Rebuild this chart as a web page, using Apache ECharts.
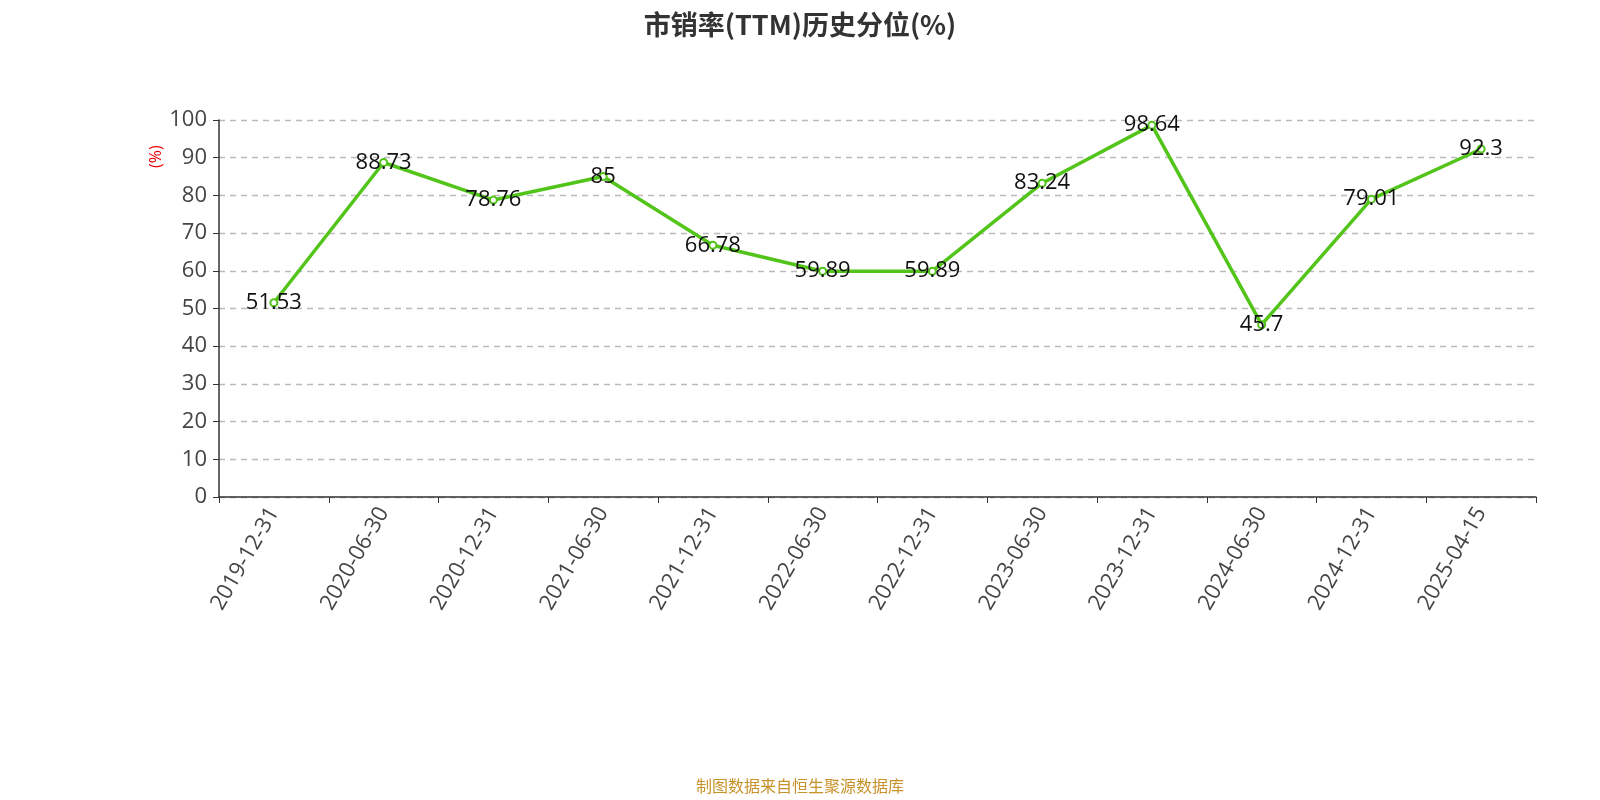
<!DOCTYPE html>
<html><head><meta charset="utf-8">
<script src="https://cdn.jsdelivr.net/npm/echarts@6/dist/echarts.min.js"></script>
<style>html,body{margin:0;padding:0;}#c{width:1600px;height:800px;}</style>
</head><body><div id="c"></div>
<script>
const categories = ['2019-12-31','2020-06-30','2020-12-31','2021-06-30','2021-12-31','2022-06-30','2022-12-31','2023-06-30','2023-12-31','2024-06-30','2024-12-31','2025-04-15'];
const values = [51.53,88.73,78.76,85,66.78,59.89,59.89,83.24,98.64,45.7,79.01,92.3];
const chart = echarts.init(document.getElementById('c'));
const font = '"Open Sans", "Noto Sans CJK SC", sans-serif';
chart.setOption({
  animation:false,
  title:{text:'市销率(TTM)历史分位(%)',left:'center',top:6,textStyle:{fontSize:27,fontWeight:'bold',color:'#333',fontFamily:'"Noto Sans CJK SC", sans-serif'}},
  grid:{left:219,right:64,top:120,bottom:303},
  graphic:[
    {type:'text',left:'center',top:778,style:{text:'制图数据来自恒生聚源数据库',fill:'#c8922a',font:'16px "Noto Sans CJK SC", sans-serif'}},
    {type:'text',x:148,y:168,rotation:Math.PI/2,style:{text:'(%)',fill:'#e00',font:'16px '+font}}
  ],
  xAxis:{type:'category',data:categories,boundaryGap:true,
    axisLine:{lineStyle:{color:'#333',width:1.5}},axisTick:{show:true,length:6,lineStyle:{color:'#333'}},
    axisLabel:{rotate:60,fontSize:22,color:'#444',fontFamily:font,margin:12,interval:0}},
  yAxis:{type:'value',min:0,max:100,interval:10,
    axisLine:{show:true,lineStyle:{color:'#333',width:1.5}},axisTick:{show:true,length:6,lineStyle:{color:'#333'}},
    axisLabel:{fontSize:22,color:'#444',fontFamily:font,margin:12},
    splitLine:{lineStyle:{type:[6,5],color:'#bbb',width:1.3}}},
  series:[{type:'line',data:values,symbol:'emptyCircle',symbolSize:7,
    lineStyle:{color:'#52c41a',width:3.5},itemStyle:{color:'#52c41a',borderWidth:2},
    label:{show:true,position:'inside',fontSize:22,color:'#111',fontFamily:font}}]
});
</script></body></html>
